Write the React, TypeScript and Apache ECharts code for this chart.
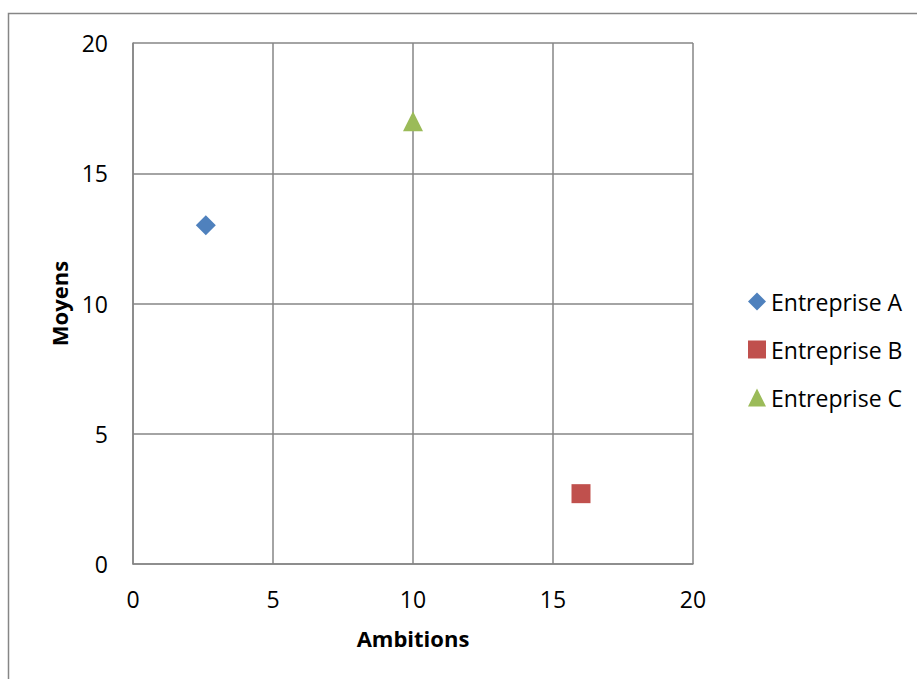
import React, { useEffect, useRef } from "react";
import * as echarts from "echarts";

const seriesNames = ["Entreprise A", "Entreprise B", "Entreprise C"];
const ambitions = [2.6, 16, 10];
const moyens = [13, 2.7, 17];
const colors = ["#4F81BD", "#C0504D", "#9BBB59"];
const symbols = ["diamond", "rect", "triangle"];
const symbolSizes = [20, 19, 20];

const FONT = "'Open Sans', Lato, sans-serif";

export default function App() {
  const ref = useRef<HTMLDivElement>(null);
  useEffect(() => {
    if (!ref.current) return;
    const chart = echarts.init(ref.current, undefined, { renderer: "svg" });
    chart.setOption({
      animation: false,
      backgroundColor: "#ffffff",
      graphic: [
        {
          type: "rect",
          shape: { x: 8.5, y: 13.5, width: 1000, height: 1000 },
          style: { fill: "none", stroke: "#868686", lineWidth: 1.5 },
          silent: true,
        },
      ],
      grid: { left: 133, top: 43, width: 560, height: 521, containLabel: false },
      xAxis: {
        type: "value",
        min: 0,
        max: 20,
        interval: 5,
        name: "Ambitions",
        nameLocation: "middle",
        nameGap: 63,
        nameTextStyle: { fontFamily: FONT, fontSize: 22, fontWeight: "bold", color: "#000" },
        axisLine: { show: true, lineStyle: { color: "#868686", width: 1.5 } },
        axisTick: { show: false },
        axisLabel: { fontFamily: FONT, fontSize: 23, color: "#000", margin: 23 },
        splitLine: { show: true, lineStyle: { color: "#868686", width: 1.5 } },
      },
      yAxis: {
        type: "value",
        min: 0,
        max: 20,
        interval: 5,
        name: "Moyens",
        nameLocation: "middle",
        nameGap: 63,
        nameRotate: 90,
        nameTextStyle: { fontFamily: FONT, fontSize: 22, fontWeight: "bold", color: "#000" },
        axisLine: { show: true, lineStyle: { color: "#868686", width: 1.5 } },
        axisTick: { show: false },
        axisLabel: { fontFamily: FONT, fontSize: 23, color: "#000", margin: 25 },
        splitLine: { show: true, lineStyle: { color: "#868686", width: 1.5 } },
      },
      legend: {
        orient: "vertical",
        left: 743,
        top: 285,
        itemGap: 25,
        itemWidth: 18,
        itemHeight: 18,
        textStyle: { fontFamily: FONT, fontSize: 23, color: "#000" },
        data: seriesNames.map((n, i) => ({ name: n, icon: symbols[i] })),
      },
      series: seriesNames.map((n, i) => ({
        name: n,
        type: "scatter",
        symbol: symbols[i],
        symbolSize: symbolSizes[i],
        itemStyle: { color: colors[i], opacity: 1 },
        data: [[ambitions[i], moyens[i]]],
      })),
    });
    return () => chart.dispose();
  }, []);
  return (
    <div
      ref={ref}
      style={{ position: "absolute", left: 0, top: 0, width: 917, height: 679 }}
    />
  );
}
